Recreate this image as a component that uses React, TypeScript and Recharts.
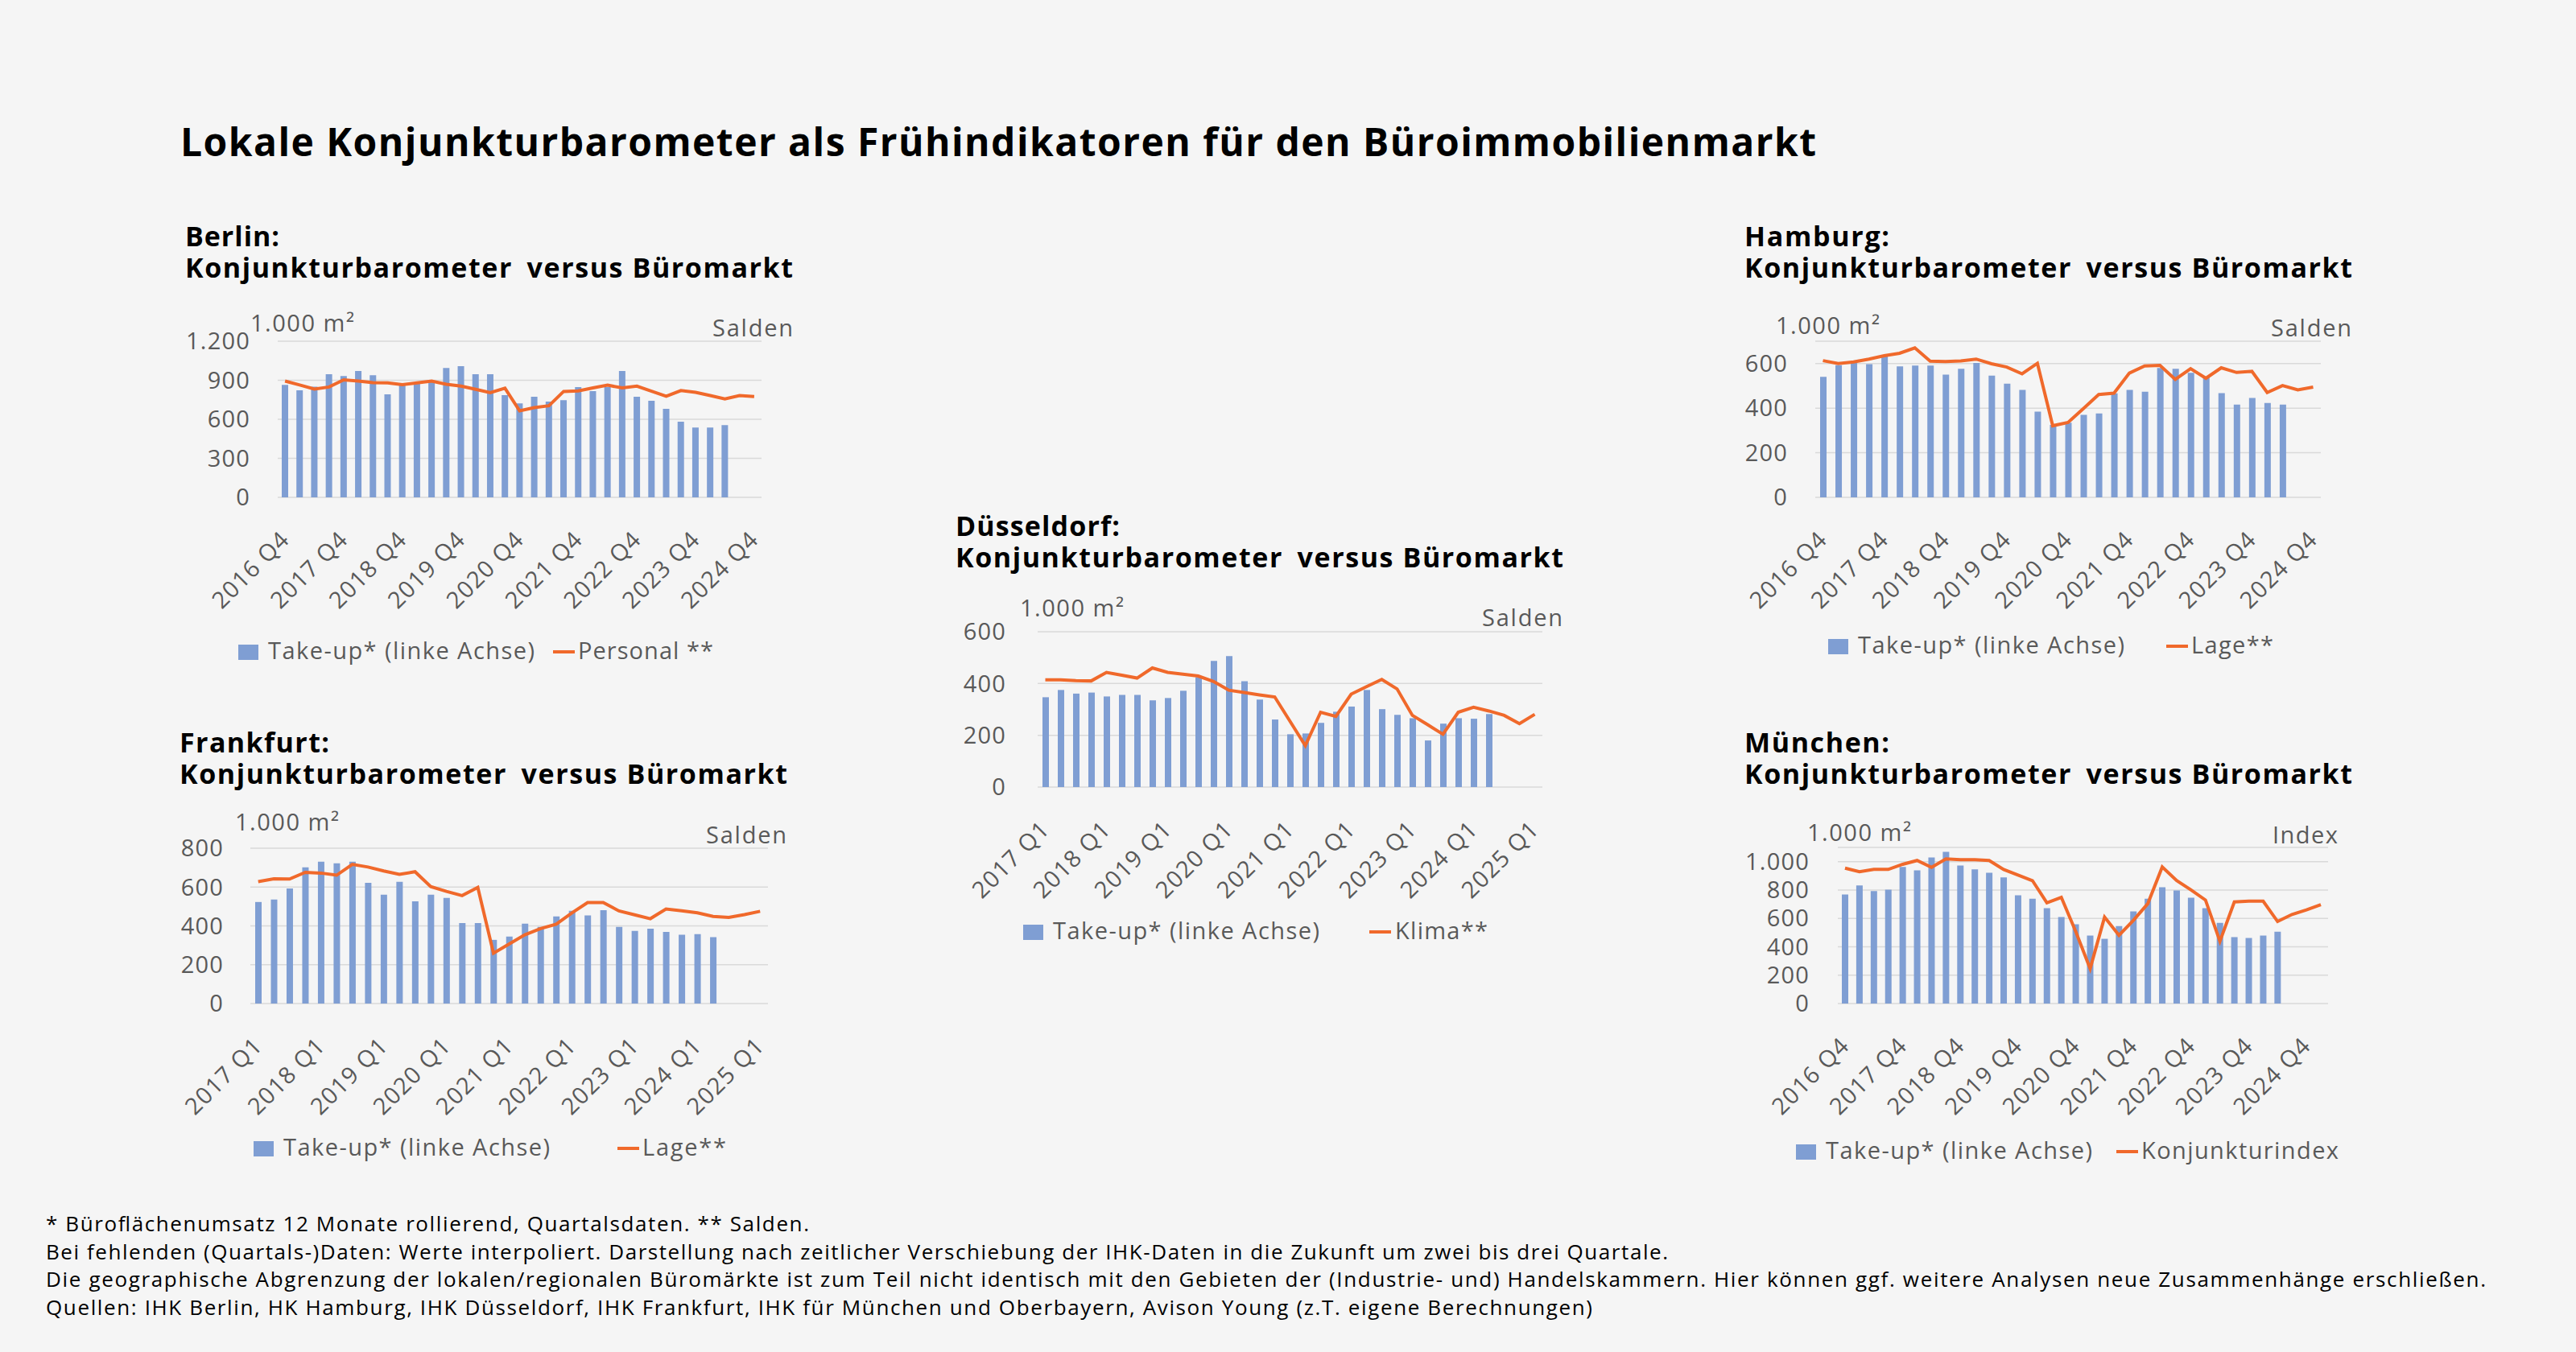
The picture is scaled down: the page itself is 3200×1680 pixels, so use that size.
import React from 'react';
import { ComposedChart, Bar, Line, XAxis, YAxis, CartesianGrid } from 'recharts';

const FONT = '"Open Sans", sans-serif';
const BAR_COLOR = '#7f9ed3';
const LINE_COLOR = '#f0692b';
const GRID_COLOR = '#d9d9d9';
const AXIS_TEXT = '#595959';

// category labels
const quartersFromQ4 = [
  '2016 Q4',
  '2017 Q1', '2017 Q2', '2017 Q3', '2017 Q4',
  '2018 Q1', '2018 Q2', '2018 Q3', '2018 Q4',
  '2019 Q1', '2019 Q2', '2019 Q3', '2019 Q4',
  '2020 Q1', '2020 Q2', '2020 Q3', '2020 Q4',
  '2021 Q1', '2021 Q2', '2021 Q3', '2021 Q4',
  '2022 Q1', '2022 Q2', '2022 Q3', '2022 Q4',
  '2023 Q1', '2023 Q2', '2023 Q3', '2023 Q4',
  '2024 Q1', '2024 Q2', '2024 Q3', '2024 Q4',
  '2025 Q1',
];
const quartersFromQ1 = quartersFromQ4.slice(1);

// Berlin
const berlinTakeUp = [864, 823, 850, 946, 933, 971, 939, 791, 864, 875, 887, 994, 1008, 946, 946, 786, 722, 773, 736, 747, 848, 816, 848, 971, 773, 743, 681, 581, 537, 537, 555];
const berlinPersonal = [894, 864, 832, 848, 903, 894, 882, 880, 866, 880, 894, 869, 855, 830, 805, 839, 665, 690, 704, 814, 818, 841, 862, 841, 855, 816, 777, 821, 807, 782, 757, 782, 775];

// Hamburg
const hamburgTakeUp = [540, 593, 603, 597, 631, 587, 591, 591, 550, 576, 603, 546, 510, 482, 384, 325, 335, 370, 376, 466, 482, 474, 580, 576, 558, 538, 467, 416, 446, 423, 416];
const hamburgLage = [613, 600, 607, 620, 635, 646, 670, 611, 609, 612, 620, 599, 584, 554, 601, 321, 336, 398, 461, 467, 557, 589, 592, 529, 577, 534, 581, 560, 565, 470, 501, 482, 494];

// Düsseldorf
const duesseldorfTakeUp = [347, 375, 361, 365, 350, 356, 356, 335, 344, 372, 424, 487, 506, 409, 338, 261, 204, 207, 248, 291, 311, 375, 301, 279, 266, 180, 245, 266, 264, 282];
const duesseldorfKlima = [414, 414, 411, 410, 443, 432, 421, 460, 443, 436, 429, 408, 374, 365, 356, 348, 254, 160, 289, 273, 359, 388, 416, 379, 277, 241, 204, 289, 308, 294, 277, 245, 281];

// Frankfurt
const frankfurtTakeUp = [523, 536, 593, 702, 731, 722, 731, 622, 561, 627, 526, 561, 544, 415, 415, 328, 345, 411, 395, 449, 478, 454, 481, 395, 374, 386, 369, 354, 357, 342];
const frankfurtLage = [628, 642, 641, 676, 672, 661, 717, 703, 683, 665, 679, 602, 578, 556, 598, 259, 307, 354, 386, 409, 467, 520, 520, 477, 457, 437, 487, 478, 467, 449, 444, 458, 475];

// München
const muenchenTakeUp = [769, 832, 792, 803, 962, 939, 1029, 1069, 973, 945, 922, 889, 763, 739, 672, 609, 559, 479, 456, 546, 649, 739, 819, 796, 746, 672, 569, 468, 462, 479, 506];
const muenchenIndex = [954, 929, 945, 945, 981, 1008, 960, 1019, 1013, 1013, 1008, 945, 905, 866, 710, 748, 508, 246, 609, 481, 586, 704, 962, 866, 800, 729, 439, 716, 721, 721, 578, 628, 660, 697];

const footnotes = [
  '* Büroflächenumsatz 12 Monate rollierend, Quartalsdaten. ** Salden.',
  'Bei fehlenden (Quartals-)Daten: Werte interpoliert. Darstellung nach zeitlicher Verschiebung der IHK-Daten in die Zukunft um zwei bis drei Quartale.',
  'Die geographische Abgrenzung der lokalen/regionalen Büromärkte ist zum Teil nicht identisch mit den Gebieten der (Industrie- und) Handelskammern. Hier können ggf. weitere Analysen neue Zusammenhänge erschließen.',
  'Quellen: IHK Berlin, HK Hamburg, IHK Düsseldorf, IHK Frankfurt, IHK für München und Oberbayern, Avison Young (z.T. eigene Berechnungen)',
];
const footnoteWidths = [948, 2015, 3031, 1921];

const Y_W = 140;
const M_TOP = 30;
const M_RIGHT = 10;
const X_H = 170;

const fmt = (v: number) => String(v).replace(/\B(?=(\d{3})+(?!\d))/g, '.');

const QuarterTick = ({ x, y, payload }: any) => {
  const ty = y + 47;
  return (
    <text
      x={x}
      y={ty}
      dy="0.35em"
      transform={`rotate(-45 ${x} ${ty})`}
      textAnchor="end"
      fill={AXIS_TEXT}
      fontSize={29}
      fontFamily={FONT}
      letterSpacing={1.2}
    >
      {payload.value}
    </text>
  );
};

type Rect = { left: number; top: number; right: number; bottom: number };

function Panel({
  quarters,
  takeUp,
  survey,
  plot,
  domain,
  ticks,
  tickGap,
}: {
  quarters: string[];
  takeUp: number[];
  survey: number[];
  plot: Rect;
  domain: [number, number];
  ticks: number[];
  tickGap: number;
}) {
  const data = quarters.map((q, i) => ({
    q,
    takeUp: i < takeUp.length ? takeUp[i] : null,
    survey: i < survey.length ? survey[i] : null,
  }));
  const plotW = plot.right - plot.left;
  const plotH = plot.bottom - plot.top;
  return (
    <div style={{ position: 'absolute', left: plot.left - Y_W, top: plot.top - M_TOP }}>
      <ComposedChart
        width={Y_W + plotW + M_RIGHT}
        height={M_TOP + plotH + X_H}
        data={data}
        margin={{ top: M_TOP, right: M_RIGHT, bottom: 0, left: 0 }}
      >
        <CartesianGrid vertical={false} stroke={GRID_COLOR} strokeWidth={1.5} />
        <XAxis
          dataKey="q"
          interval={3}
          tickLine={false}
          axisLine={false}
          tickSize={0}
          tickMargin={0}
          height={X_H}
          tick={(props: any) => <QuarterTick {...props} />}
        />
        <YAxis
          width={Y_W}
          domain={domain}
          ticks={ticks}
          interval={0}
          tickLine={false}
          axisLine={false}
          tickSize={0}
          tickMargin={tickGap}
          tickFormatter={fmt}
          tick={{ fill: AXIS_TEXT, fontSize: 29, fontFamily: FONT, letterSpacing: 1.2 }}
        />
        <YAxis yAxisId="right" orientation="right" hide domain={domain} />
        <Bar dataKey="takeUp" fill={BAR_COLOR} barSize={8} isAnimationActive={false} />
        <Line
          yAxisId="right"
          dataKey="survey"
          type="linear"
          stroke={LINE_COLOR}
          strokeWidth={4}
          dot={false}
          isAnimationActive={false}
        />
      </ComposedChart>
    </div>
  );
}

type Deco = {
  city: string;
  cityWidth: number;
  titleX: number;
  titleY: number;
  unitLeft: number;
  unitY: number;
  rightLabel: string;
  rightLabelWidth: number;
  rightX: number;
  rightY: number;
  legendSq: number;
  legendText: number;
  legendLine: number;
  legendText2: number;
  legendY: number;
  seriesLabel: string;
  seriesLabelWidth: number;
};

const decos: Deco[] = [
  { city: 'Berlin:', cityWidth: 117, titleX: 230, titleY: 306, unitLeft: 311, unitY: 412, rightLabel: 'Salden', rightLabelWidth: 100, rightX: 985, rightY: 418, legendSq: 296, legendText: 333, legendLine: 687, legendText2: 718, legendY: 810, seriesLabel: 'Personal **', seriesLabelWidth: 168 },
  { city: 'Hamburg:', cityWidth: 180, titleX: 2167, titleY: 306, unitLeft: 2206, unitY: 415, rightLabel: 'Salden', rightLabelWidth: 100, rightX: 2921, rightY: 418, legendSq: 2271, legendText: 2308, legendLine: 2691, legendText2: 2722, legendY: 803, seriesLabel: 'Lage**', seriesLabelWidth: 102 },
  { city: 'Düsseldorf:', cityWidth: 204, titleX: 1187, titleY: 666, unitLeft: 1267, unitY: 766, rightLabel: 'Salden', rightLabelWidth: 100, rightX: 1941, rightY: 778, legendSq: 1271, legendText: 1308, legendLine: 1701, legendText2: 1733, legendY: 1158, seriesLabel: 'Klima**', seriesLabelWidth: 115 },
  { city: 'Frankfurt:', cityWidth: 186, titleX: 223, titleY: 935, unitLeft: 292, unitY: 1032, rightLabel: 'Salden', rightLabelWidth: 100, rightX: 977, rightY: 1048, legendSq: 315, legendText: 352, legendLine: 767, legendText2: 798, legendY: 1427, seriesLabel: 'Lage**', seriesLabelWidth: 104 },
  { city: 'München:', cityWidth: 180, titleX: 2167, titleY: 935, unitLeft: 2245, unitY: 1045, rightLabel: 'Index', rightLabelWidth: 81, rightX: 2904, rightY: 1048, legendSq: 2231, legendText: 2268, legendLine: 2629, legendText2: 2660, legendY: 1431, seriesLabel: 'Konjunkturindex', seriesLabelWidth: 245 },
];

function Decorations({ d }: { d: Deco }) {
  return (
    <g fontFamily={FONT}>
      <text fontSize={34} fontWeight={700} fill="#000" style={{ whiteSpace: 'pre' }}>
        <tspan x={d.titleX} y={d.titleY} textLength={d.cityWidth} lengthAdjust="spacing">
          {d.city}
        </tspan>
        <tspan x={d.titleX} y={d.titleY + 39} textLength={755} lengthAdjust="spacing">
          {'Konjunkturbarometer\u2009 versus Büromarkt'}
        </tspan>
      </text>
      <text x={d.unitLeft} y={d.unitY} fontSize={29} fill={AXIS_TEXT} textLength={129} lengthAdjust="spacing">
        1.000 m²
      </text>
      <text x={d.rightX - d.rightLabelWidth} y={d.rightY} fontSize={29} fill={AXIS_TEXT} textLength={d.rightLabelWidth} lengthAdjust="spacing">
        {d.rightLabel}
      </text>
      <rect x={d.legendSq} y={d.legendY - 9} width={25} height={19} fill={BAR_COLOR} />
      <text x={d.legendText} y={d.legendY + 9} fontSize={29} fill={AXIS_TEXT} textLength={331} lengthAdjust="spacing">
        Take-up* (linke Achse)
      </text>
      <rect x={d.legendLine} y={d.legendY - 2} width={27} height={4} fill={LINE_COLOR} />
      <text x={d.legendText2} y={d.legendY + 9} fontSize={29} fill={AXIS_TEXT} textLength={d.seriesLabelWidth} lengthAdjust="spacing">
        {d.seriesLabel}
      </text>
    </g>
  );
}

export default function App() {
  return (
    <div
      style={{
        position: 'absolute',
        left: 0,
        top: 0,
        width: 3200,
        height: 1680,
        background: '#f5f5f5',
        fontFamily: FONT,
        overflow: 'hidden',
      }}
    >
      <svg width={3200} height={1680} style={{ position: 'absolute', left: 0, top: 0 }}>
        <text x={224} y={194} fontFamily={FONT} fontSize={48} fontWeight={700} fill="#000" textLength={2032} lengthAdjust="spacing">
          Lokale Konjunkturbarometer als Frühindikatoren für den Büroimmobilienmarkt
        </text>
        {decos.map((d) => (
          <Decorations key={d.city} d={d} />
        ))}
        {footnotes.map((line, i) => (
          <text key={i} x={57} y={1530 + i * 34.5} fontFamily={FONT} fontSize={26} fill="#000" textLength={footnoteWidths[i]} lengthAdjust="spacing">
            {line}
          </text>
        ))}
      </svg>

      <Panel
        quarters={quartersFromQ4.slice(0, 33)}
        takeUp={berlinTakeUp}
        survey={berlinPersonal}
        plot={{ left: 345, top: 424, right: 946, bottom: 618 }}
        domain={[0, 1200]}
        ticks={[0, 300, 600, 900, 1200]}
        tickGap={34}
      />
      <Panel
        quarters={quartersFromQ4.slice(0, 33)}
        takeUp={hamburgTakeUp}
        survey={hamburgLage}
        plot={{ left: 2255, top: 424, right: 2883, bottom: 618 }}
        domain={[0, 700]}
        ticks={[0, 200, 400, 600]}
        tickGap={34}
      />
      <Panel
        quarters={quartersFromQ1}
        takeUp={duesseldorfTakeUp}
        survey={duesseldorfKlima}
        plot={{ left: 1289, top: 785, right: 1916, bottom: 978 }}
        domain={[0, 600]}
        ticks={[0, 200, 400, 600]}
        tickGap={39}
      />
      <Panel
        quarters={quartersFromQ1}
        takeUp={frankfurtTakeUp}
        survey={frankfurtLage}
        plot={{ left: 311, top: 1054, right: 954, bottom: 1247 }}
        domain={[0, 800]}
        ticks={[0, 200, 400, 600, 800]}
        tickGap={33}
      />
      <Panel
        quarters={quartersFromQ4}
        takeUp={muenchenTakeUp}
        survey={muenchenIndex}
        plot={{ left: 2283, top: 1053, right: 2892, bottom: 1247 }}
        domain={[0, 1100]}
        ticks={[0, 200, 400, 600, 800, 1000]}
        tickGap={35}
      />
    </div>
  );
}
